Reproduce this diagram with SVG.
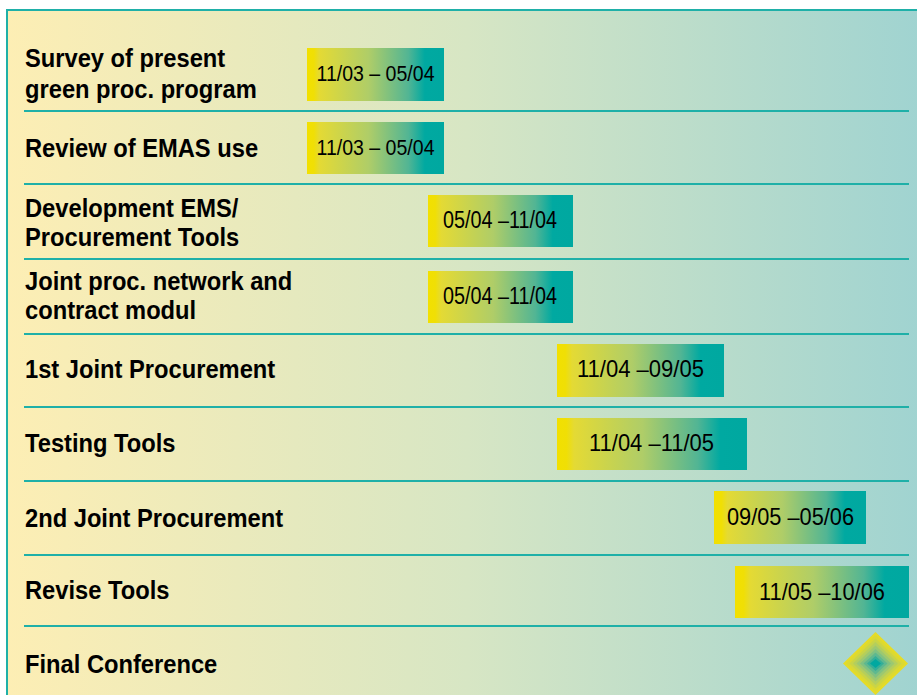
<svg xmlns="http://www.w3.org/2000/svg" width="917" height="695" viewBox="0 0 917 695">
<defs>
<linearGradient id="bg" x1="0" y1="0" x2="1" y2="0">
<stop offset="0" stop-color="#fdeeb4"/>
<stop offset="0.5" stop-color="#d7e6c4"/>
<stop offset="1" stop-color="#9fd3d1"/>
</linearGradient>
<linearGradient id="bar" x1="0" y1="0" x2="1" y2="0">
<stop offset="0" stop-color="#f2e000"/>
<stop offset="0.05" stop-color="#f0df05"/>
<stop offset="0.09" stop-color="#e4da34"/>
<stop offset="0.45" stop-color="#afcd68"/>
<stop offset="0.74" stop-color="#52b594"/>
<stop offset="0.86" stop-color="#00a9a1"/>
<stop offset="1" stop-color="#00a8a0"/>
</linearGradient>
<style>
.sep{stroke:#1fb0a8;stroke-width:2;fill:none}
.lbl{font-family:"Liberation Sans",Arial,sans-serif;font-weight:bold;font-size:26.5px;fill:#000}
.dt{font-family:"Liberation Sans",Arial,sans-serif;font-size:23.5px;fill:#000;text-anchor:middle}
.b{fill:url(#bar)}
</style>
</defs>
<rect x="0" y="0" width="917" height="695" fill="#ffffff"/>
<rect x="7" y="10" width="920" height="700" fill="url(#bg)" stroke="#1fb0a8" stroke-width="2"/>
<g id="connectors">
<line class="sep" x1="24" y1="111" x2="909" y2="111"/>
<line class="sep" x1="24" y1="184" x2="909" y2="184"/>
<line class="sep" x1="24" y1="259" x2="909" y2="259"/>
<line class="sep" x1="24" y1="334" x2="909" y2="334"/>
<line class="sep" x1="24" y1="407" x2="909" y2="407"/>
<line class="sep" x1="24" y1="481" x2="909" y2="481"/>
<line class="sep" x1="24" y1="555" x2="909" y2="555"/>
<line class="sep" x1="24" y1="626" x2="909" y2="626"/>
</g>
<g id="row1">
<g transform="translate(25,67) scale(0.895,1)"><text class="lbl" x="0" y="0">Survey of present</text></g>
<g transform="translate(25,97.5) scale(0.895,1)"><text class="lbl" x="0" y="0">green proc. program</text></g>
<rect class="b" x="307" y="48" width="137" height="53"/>
<text class="dt" x="375.5" y="81.3" style="font-size:22.5px" textLength="118" lengthAdjust="spacingAndGlyphs">11/03 – 05/04</text>
</g>
<g id="row2">
<g transform="translate(25,157) scale(0.895,1)"><text class="lbl" x="0" y="0">Review of EMAS use</text></g>
<rect class="b" x="307" y="122" width="137" height="52"/>
<text class="dt" x="375.5" y="155" style="font-size:22.5px" textLength="118" lengthAdjust="spacingAndGlyphs">11/03 – 05/04</text>
</g>
<g id="row3">
<g transform="translate(25,217) scale(0.895,1)"><text class="lbl" x="0" y="0">Development EMS/</text></g>
<g transform="translate(25,246) scale(0.895,1)"><text class="lbl" x="0" y="0">Procurement Tools</text></g>
<rect class="b" x="428" y="195" width="145" height="52"/>
<text class="dt" x="500" y="228.3" textLength="114" lengthAdjust="spacingAndGlyphs">05/04 –11/04</text>
</g>
<g id="row4">
<g transform="translate(25,290) scale(0.895,1)"><text class="lbl" x="0" y="0">Joint proc. network and</text></g>
<g transform="translate(25,319) scale(0.895,1)"><text class="lbl" x="0" y="0">contract modul</text></g>
<rect class="b" x="428" y="271" width="145" height="52"/>
<text class="dt" x="500" y="304.3" textLength="114" lengthAdjust="spacingAndGlyphs">05/04 –11/04</text>
</g>
<g id="row5">
<g transform="translate(25,378) scale(0.895,1)"><text class="lbl" x="0" y="0">1st Joint Procurement</text></g>
<rect class="b" x="557" y="344" width="167" height="53"/>
<text class="dt" x="640.5" y="377" style="font-size:24px" textLength="127" lengthAdjust="spacingAndGlyphs">11/04 –09/05</text>
</g>
<g id="row6">
<g transform="translate(25,452) scale(0.895,1)"><text class="lbl" x="0" y="0">Testing Tools</text></g>
<rect class="b" x="557" y="418" width="190" height="52"/>
<text class="dt" x="651.5" y="451.3" style="font-size:24.5px" textLength="125" lengthAdjust="spacingAndGlyphs">11/04 –11/05</text>
</g>
<g id="row7">
<g transform="translate(25,527) scale(0.895,1)"><text class="lbl" x="0" y="0">2nd Joint Procurement</text></g>
<rect class="b" x="714" y="491" width="152" height="53"/>
<text class="dt" x="790.5" y="524.5" style="font-size:24px" textLength="127" lengthAdjust="spacingAndGlyphs">09/05 –05/06</text>
</g>
<g id="row8">
<g transform="translate(25,599) scale(0.895,1)"><text class="lbl" x="0" y="0">Revise Tools</text></g>
<rect class="b" x="735" y="566" width="174" height="52"/>
<text class="dt" x="822" y="599.5" style="font-size:24px" textLength="126" lengthAdjust="spacingAndGlyphs">11/05 –10/06</text>
</g>
<g id="row9">
<g transform="translate(25,673) scale(0.895,1)"><text class="lbl" x="0" y="0">Final Conference</text></g>
<polygon points="875.5,632 908,663.5 875.5,695 843,663.5" fill="#e6dc26"/>
<polygon points="875.5,635 905,663.5 875.5,692 846,663.5" fill="#dbd933"/>
<polygon points="875.5,638.5 901.5,663.5 875.5,688.5 849.5,663.5" fill="#c9d447"/>
<polygon points="875.5,642 898,663.5 875.5,685 853,663.5" fill="#b4ce5d"/>
<polygon points="875.5,645.5 894.5,663.5 875.5,681.5 856.5,663.5" fill="#9cc871"/>
<polygon points="875.5,649 891,663.5 875.5,678 860,663.5" fill="#80c182"/>
<polygon points="875.5,652.5 887.5,663.5 875.5,674.5 863.5,663.5" fill="#5eb890"/>
<polygon points="875.5,656 884,663.5 875.5,671 867,663.5" fill="#34ae99"/>
<polygon points="875.5,659 881,663.5 875.5,668 870,663.5" fill="#00a8a0"/>
</g>
</svg>
